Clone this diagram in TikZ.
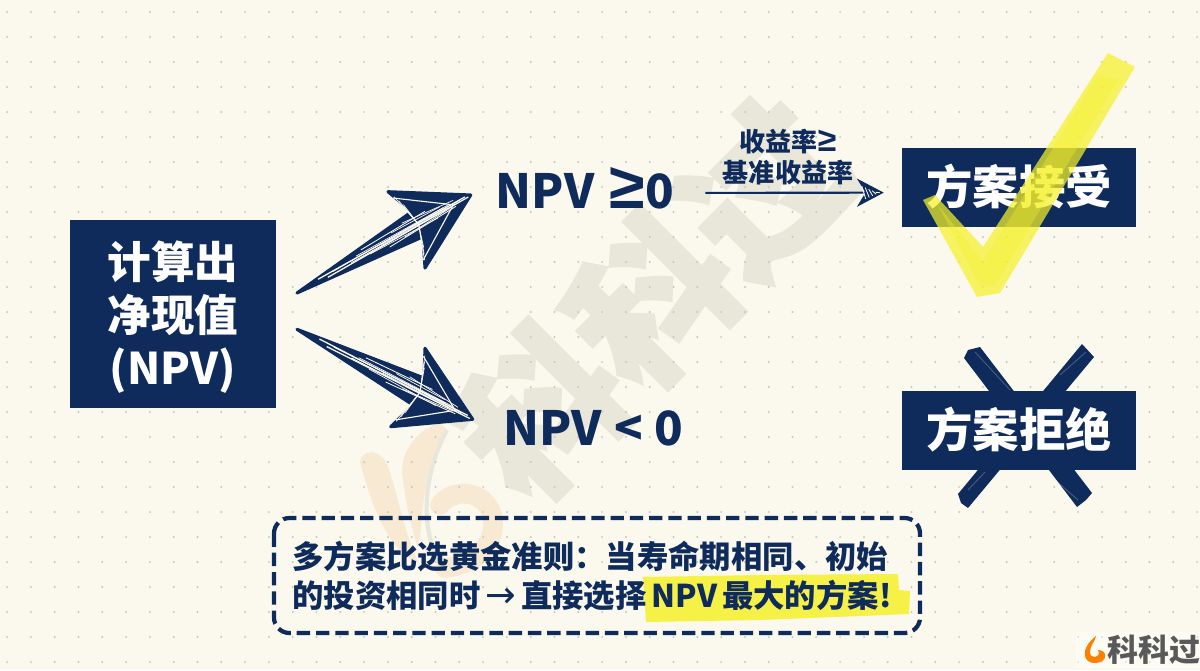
\documentclass[tikz,border=0pt]{standalone}
\usepackage{fontspec}
\setmainfont[WordSpace=0.7]{Noto Sans CJK SC}
\newfontfamily\symfont{Liberation Sans}
\newfontfamily\arrowfont{DejaVu Sans}
\newfontfamily\stampfont[BoldFeatures={FakeBold=2.5}]{Noto Sans CJK SC}
\usepackage{tikz}
\usetikzlibrary{arrows.meta, positioning, calc}
\definecolor{navy}{HTML}{0F2B5C}
\definecolor{paper}{HTML}{FBF9EE}
\definecolor{griddot}{HTML}{C8C7BA}
\definecolor{marker}{HTML}{F5F02A}
\definecolor{stamp}{HTML}{E9E7DA}
\definecolor{swirl}{HTML}{F8E9D3}
\definecolor{swirledge}{HTML}{E8E7DC}
\newcommand{\gemark}[1]{{\symfont\bfseries\fontsize{#1}{10}\selectfont ≥}}
\newcommand{\sketcharrow}[6]{
  \fill[navy, draw=navy, line width=2.2, line join=round] (#1) -- (#4) -- (#3) -- (#2) -- (#5) -- (#6) -- cycle;
  \draw[paper, line width=.8] ($(#3)!.14!(#6)$) -- ($(#2)!.1!(#1)$) -- ($(#5)!.14!(#4)$);
  \foreach \s/\t/\e/\u/\w in {.18/.2/.9/.1/.9, .25/.75/.95/.92/.9, .3/.4/.5/.35/.5, .45/.55/.75/.6/.6, .5/.3/.6/.3/.5, .6/.65/.35/.75/.5, .7/.5/.55/.5/.4, .8/.25/.45/.2/.5, .75/.8/.7/.85/.6, .85/.45/.8/.4/.5, .88/.7/.6/.65/.5, .9/.15/.7/.05/.5, .55/.12/.2/.15/.6}
    \draw[paper, line width=\w] ($($(#1)!\s!(#4)$)!\t!($(#1)!\s!(#6)$)$) -- ($($(#4)!\u!(#6)$)!\e!(#2)$);
  \foreach \t in {.25,.45,.65}{
    \draw[paper, line width=.5] ($(#3)!\t!(#4)$) -- ($(#2)!.3!(#1)$);
    \draw[paper, line width=.5] ($(#5)!\t!(#6)$) -- ($(#2)!.3!(#1)$);
  }
}
\begin{document}
\begin{tikzpicture}[
    x=0.025cm, y=-0.025cm,
    every node/.style={text=navy, inner sep=0, font=\bfseries},
    navybox/.style={fill=navy, text=white},
    stampword/.style={rotate=45, font=\fontsize{112}{112}\selectfont\stampfont\bfseries},
    result/.style={font=\fontsize{33.5}{40}\selectfont\bfseries},
    boxword/.style={navybox, minimum width=234*0.025cm, minimum height=79*0.025cm, font=\fontsize{33}{40}\selectfont\bfseries},
    swipe/.style={fill=navy},
    streak/.style={paper, opacity=.25, line width=.6},
    arrow/.style={-{Stealth[length=19pt, width=20pt, inset=6pt]}, navy, line width=1.5}
  ]
    \useasboundingbox (0,0) rectangle (1200,670);
    \fill[paper] (0,0) rectangle (1200,670);

    \fill[swirl] (360,462) .. controls (362,450) and (378,448) .. (386,462) .. controls (396,485) and (400,520) .. (418,562) .. controls (395,555) and (375,520) .. (360,462) -- cycle;
    \fill[swirl] (440,423) .. controls (415,430) and (398,455) .. (403,480) .. controls (406,505) and (412,530) .. (418,548) .. controls (424,520) and (420,470) .. (447,430) -- cycle;
    \draw[swirl, line width=14, line cap=round] (440,505) .. controls (455,485) and (490,492) .. (493,520) .. controls (495,545) and (475,565) .. (445,568);
    \draw[swirledge, line width=3] (447,430) .. controls (425,470) and (418,525) .. (440,563);
    \node[stampword, text=stamp] (stampfront) at (652,300) {科科过};

    \foreach \i in {0,...,50}
      \foreach \j in {0,...,26}
        \fill[griddot] ({7.1+23.8*\i},{12+25*\j}) circle (1.1);

    \node[navybox, minimum width=206*0.025cm, minimum height=188*0.025cm, align=center,
          font=\fontsize{31}{37.7}\selectfont\bfseries] (calc) at (173,314) {\rule{0pt}{31pt}计算出\\净现值\\(NPV)};
    \node[result] (npvpos) at (585,188) {NPV\hspace{11pt}\gemark{46}0};
    \node[result] (npvneg) at (593,428) {NPV\hspace{9pt}<\hspace{8pt}0};

    \fill[swipe] (964,358) -- (968,350) -- (980,347) -- (1092,493) -- (1086,500) -- (1077,507) -- cycle;
    \fill[swipe] (1082,344) -- (1094,357) -- (968,508) -- (961,503) -- (958,494) -- cycle;
    \draw[streak] (975,352) -- (1010,390);
    \draw[streak] (1060,375) -- (1086,352);
    \draw[streak] (968,490) -- (985,472);
    \draw[streak] (1046,472) -- (1078,500);
    \node[boxword] (accept) at (1019,187) {方案接受};
    \node[boxword] (reject) at (1019,430) {方案拒绝};

    \fill[marker, opacity=.72] (923,200) -- (935,195) -- (983,247) -- (1108,53) -- (1135,67) -- (1000,293) -- (977,297) -- cycle;
    \fill[marker, opacity=.35] (938,205) -- (983,262) -- (1098,75) -- (1118,80) -- (995,285) -- (980,285) -- cycle;

    \coordinate (upTail) at (297,293);
    \coordinate (upTip) at (470.7,195);
    \coordinate (upBarbA) at (388,191.7);
    \coordinate (upNotchA) at (411.7,211.7);
    \coordinate (upBarbB) at (425,268);
    \coordinate (upNotchB) at (423,236.7);
    \coordinate (dnTail) at (297,329.3);
    \coordinate (dnTip) at (472.7,419.3);
    \coordinate (dnBarbA) at (425,348.3);
    \coordinate (dnNotchA) at (424,378);
    \coordinate (dnBarbB) at (390.7,426.7);
    \coordinate (dnNotchB) at (413,405);
    \sketcharrow{upTail}{upTip}{upBarbA}{upNotchA}{upBarbB}{upNotchB}
    \sketcharrow{dnTail}{dnTip}{dnBarbA}{dnNotchA}{dnBarbB}{dnNotchB}

    \node[font=\fontsize{18.5}{22}\selectfont\bfseries, align=center] (rate) at (788,157) {收益率\gemark{24}\\基准收益率};
    \draw[arrow, shorten <=31*0.025cm, shorten >=18*0.025cm] ([yshift=-3.5pt]npvpos.east) -- ([yshift=-4pt]accept.west);
    \foreach \d in {0,3.5,7,10.5,14}
      \draw[paper, line width=.6] ($(accept.west)+(-40+\d,{-1+.45*\d})$) -- ($(accept.west)+(-36+\d,{12-.45*\d})$);

    \draw[navy, line width=3, rounded corners=11, dash pattern=on 9.5pt off 4.2pt] (274,518) rectangle (920,633);
    \fill[marker!85!paper] (643,577) -- (760,575) -- (898,574) -- (899,590) -- (910,591) -- (909,614) -- (860,616) -- (760,620) -- (646,622) -- cycle;
    \node[font=\fontsize{22.3}{27.7}\selectfont\bfseries, align=left, anchor=north west] (rule) at (292,541) {多方案比选黄金准则：当寿命期相同、初始\\的投资相同时 {\arrowfont\mdseries\fontsize{26}{20}\selectfont →} 直接选择 NPV 最大的方案!};

    \fill[white, opacity=.4] (1076,632) rectangle (1200,668);
    \fill[orange] (1096,636) .. controls (1080,648) and (1082,664) .. (1096,663) .. controls (1108,662) and (1108,650) .. (1098,650) .. controls (1102,658) and (1090,660) .. (1090,652) .. controls (1090,645) and (1096,640) .. (1096,636) -- cycle;
    \node[text=black!65, font=\fontsize{22}{26}\selectfont\bfseries, anchor=west] (brand) at (1107,650) {科科过};
  \end{tikzpicture}
\end{document}
